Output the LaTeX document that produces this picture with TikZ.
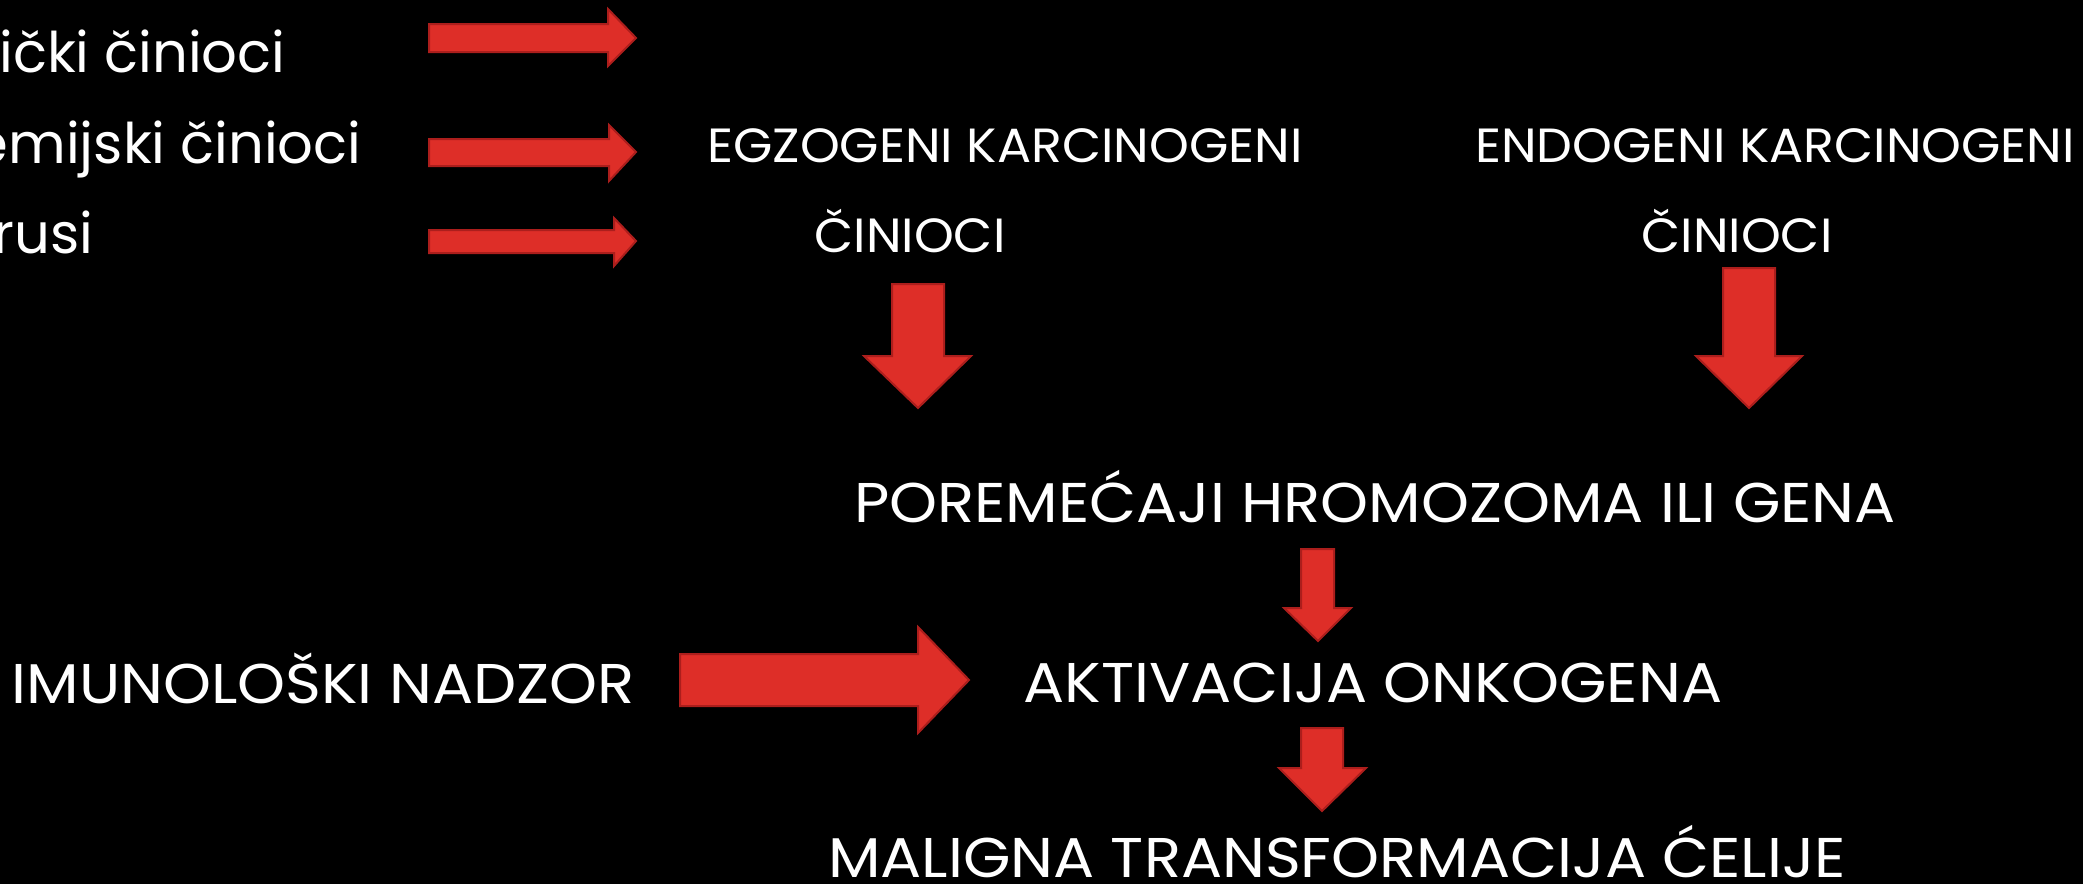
\documentclass[tikz,border=0pt]{standalone}
\usepackage{fontspec}
\setmainfont{Poppins}
\newfontfamily\bigfont[FakeStretch=1.09]{Poppins}
\newfontfamily\midfont[FakeStretch=1.055]{Poppins}
\usepackage{tikz}
\definecolor{arrred}{RGB}{222,46,40}
\definecolor{arredge}{RGB}{172,30,28}
\tikzstyle{blk}=[fill=arrred,draw=arredge,line width=1pt,line join=miter]
\tikzstyle{txt}=[text=white,anchor=base,inner sep=0pt]
\tikzstyle{low}=[txt,font=\fontsize{28}{30}\selectfont]
\tikzstyle{big}=[txt,font=\bigfont\fontsize{28}{30}\selectfont]
\tikzstyle{mid}=[txt,font=\midfont\fontsize{24}{26}\selectfont]

\begin{document}
\begin{tikzpicture}[x=0.5pt,y=-0.5pt]
\fill[black] (0,0) rectangle (2083,884);
\useasboundingbox (0,0) rectangle (2083,884);
% left column (cut at the slide edge)
\node[low,anchor=base east] (fiz) at (286,72) {ički činioci};
\node[low,anchor=base east] (hem) at (362,163) {emijski činioci};
\node[low,anchor=base east] (vir) at (94,253) {irusi};
\filldraw[blk] (429,24) -- (608,24) -- (608,9) -- (636,38) -- (608,66) -- (608,52) -- (429,52) -- cycle;
\filldraw[blk] (429,139) -- (609,139) -- (609,125) -- (636,152) -- (609,181) -- (609,166) -- (429,166) -- cycle;
\filldraw[blk] (429,230) -- (614,230) -- (614,218) -- (636,241) -- (614,266) -- (614,253) -- (429,253) -- cycle;
% carcinogens
\node[mid] (egz) at (1005,162) {EGZOGENI KARCINOGENI};
\node[mid] (egzc) at (910,252) {ČINIOCI};
\node[mid] (endo) at (1775,162) {ENDOGENI KARCINOGENI};
\node[mid] (endoc) at (1737,252) {ČINIOCI};
\filldraw[blk] (892,284) -- (944,284) -- (944,356) -- (971,356) -- (918,408) -- (864,356) -- (892,356) -- cycle;
\filldraw[blk] (1723,268) -- (1775,268) -- (1775,356) -- (1802,356) -- (1749,408) -- (1696,356) -- (1723,356) -- cycle;
% chain
\node[big] (porem) at (1375,522) {POREMEĆAJI HROMOZOMA ILI GENA};
\node[big] (aktiv) at (1373,702) {AKTIVACIJA ONKOGENA};
\node[big] (malig) at (1337,877) {MALIGNA TRANSFORMACIJA ĆELIJE};
\node[big] (imun) at (323,703) {IMUNOLOŠKI NADZOR};
\filldraw[blk] (1301,549) -- (1334,549) -- (1334,608) -- (1351,608) -- (1318,641) -- (1284,608) -- (1301,608) -- cycle;
\filldraw[blk] (1301,728) -- (1343,728) -- (1343,768) -- (1366,768) -- (1322,811) -- (1279,768) -- (1301,768) -- cycle;
\filldraw[blk] (680,654) -- (918,654) -- (918,627) -- (969,680) -- (918,733) -- (918,706) -- (680,706) -- cycle;
\end{tikzpicture}
\end{document}
